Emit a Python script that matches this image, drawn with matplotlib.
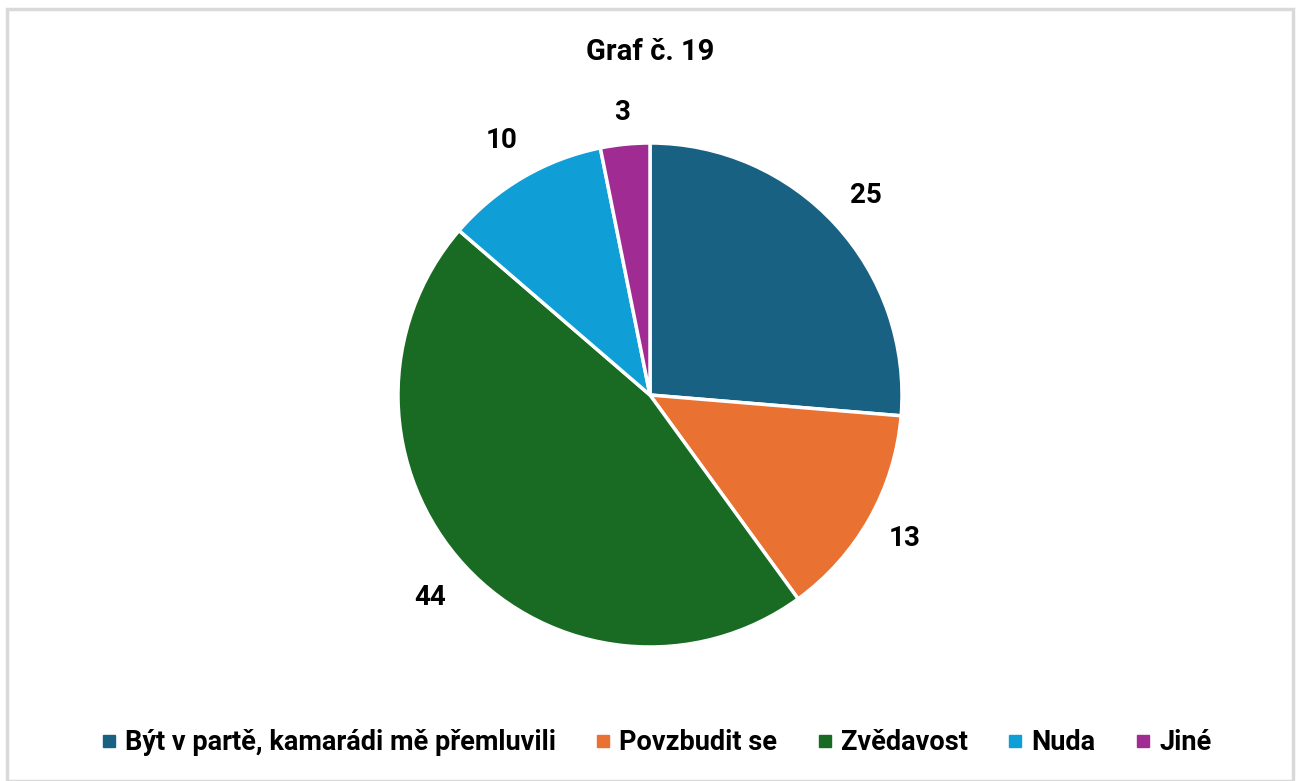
import matplotlib.pyplot as plt
from matplotlib.lines import Line2D
from matplotlib.patches import Rectangle

# data
categories = ['Být v partě, kamarádi mě přemluvili', 'Povzbudit se', 'Zvědavost', 'Nuda', 'Jiné']
values = [25, 13, 44, 10, 3]
colors = ['#196183', '#E97132', '#196B24', '#0F9ED5', '#A02B93']
title = 'Graf č. 19'

plt.rcParams['font.family'] = ['Roboto', 'DejaVu Sans']

W, H = 1298, 781
fig = plt.figure(figsize=(W / 100, H / 100), dpi=100)

# chart frame
fig.patches.append(Rectangle((7 / W, 0), (1293 - 7) / W, (H - 9) / H,
                             transform=fig.transFigure, fill=False,
                             edgecolor='#D9D9D9', linewidth=2.5))

cx, cy, r = 650, 395, 252
ax = fig.add_axes([(cx - r) / W, (H - cy - r) / H, 2 * r / W, 2 * r / H])
wedges, texts = ax.pie(values, colors=colors, startangle=90, counterclock=False,
                       labels=[str(v) for v in values], labeldistance=1.165,
                       wedgeprops=dict(edgecolor='white', linewidth=2.5),
                       textprops=dict(fontsize=20, fontweight='bold', color='black'))
# excel-like label offsets
label_dist = [1.167, 1.16, 1.187, 1.17, 1.125]
for t, d in zip(texts, label_dist):
    x, y = t.get_position()
    k = d / 1.165
    t.set_position((x * k, y * k))
    t.set_horizontalalignment('center')
    t.set_verticalalignment('center')
ax.set_xlim(-1, 1)
ax.set_ylim(-1, 1)
ax.set_aspect('equal')
ax.axis('off')

fig.text(650 / W, 1 - 52 / H, title, ha='center', va='center',
         fontsize=21, fontweight='bold')

handles = [Line2D([], [], marker='s', linestyle='none', markersize=9,
                  markerfacecolor=c, markeredgecolor=c) for c in colors]
fig.legend(handles, categories, loc='center', bbox_to_anchor=(656 / W, 1 - 743 / H),
           ncol=5, frameon=False, handlelength=0.6, handletextpad=0.3,
           columnspacing=1.45, prop=dict(size=19.5, weight='bold'))

fig.savefig('out.png', dpi=100)
